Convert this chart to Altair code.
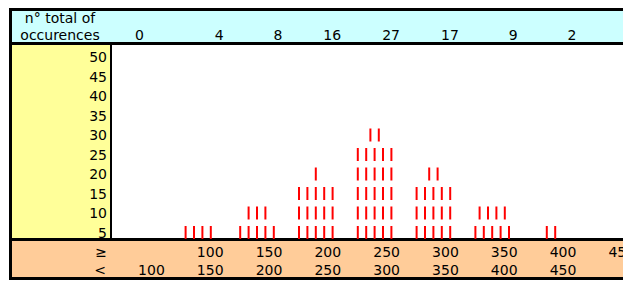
import math
import altair as alt
import pandas as pd

# ---- data ----
counts = [0, 4, 8, 16, 27, 17, 9, 2]
lower_bounds = ["", "100", "150", "200", "250", "300", "350", "400", "450"]
upper_bounds = ["100", "150", "200", "250", "300", "350", "400", "450", ""]
y_ticks = [5, 10, 15, 20, 25, 30, 35, 40, 45, 50]
header_lines = ["n° total of", "occurences"]
row_labels = ["≥", "<"]
TALLY = 5

FONT = "DejaVu Sans"
FS = 14
W, H = 615, 273

# ---- derived tables ----
marks = []
for col, c in enumerate(counts):
    for r in range(math.ceil(c / TALLY)):
        n = min(TALLY, c - TALLY * r)
        for i in range(n):
            marks.append({"col": col, "i": i, "n": n, "level": TALLY * (r + 1)})
tally = pd.DataFrame(marks)

count_df = pd.DataFrame({"col": list(range(len(counts))), "count": counts})
bins_df = pd.DataFrame({"col": list(range(len(lower_bounds))),
                        "lo": lower_bounds, "hi": upper_bounds})
yt_df = pd.DataFrame({"v": y_ticks, "label": [str(v) for v in y_ticks]})
one = pd.DataFrame({"a": [0]})

# column k spans pixels 102 + 58.8*k ... ; rows: value v -> pixel 244 - 3.9*v
xs = alt.Scale(domain=[-102 / 58.8, (W - 102) / 58.8], nice=False, zero=False)
ys = alt.Scale(domain=[(244 - H) / 3.9, 244 / 3.9], nice=False, zero=False)


def rect(color, x, x2, y, y2):
    return alt.Chart(one).mark_rect(color=color, strokeWidth=0).encode(
        x=alt.value(x), x2=alt.value(x2), y=alt.value(y), y2=alt.value(y2))


frame = [
    rect("#000000", 1, W, 0, 272),
    rect("#CCFFFF", 4, W, 3, 34),
    rect("#FFFF99", 4, 102, 37, 230),
    rect("#FFFFFF", 104, W, 37, 230),
    rect("#FFCC99", 4, W, 233, 269),
]

tally_layer = alt.Chart(tally).transform_calculate(
    xx="datum.col + 0.5 + (datum.i - (datum.n - 1) / 2) / 7",
    y1="datum.level - 1.667",
    y2="datum.level + 1.667",
).mark_rule(color="#FF0000", strokeWidth=2).encode(
    x=alt.X("xx:Q", scale=xs, axis=None),
    y=alt.Y("y1:Q", scale=ys, axis=None),
    y2="y2:Q",
)

txt = dict(font=FONT, fontSize=FS, color="#000000")

ytick_layer = alt.Chart(yt_df).mark_text(align="right", baseline="alphabetic", dy=5, **txt).encode(
    x=alt.value(99), y=alt.Y("v:Q", scale=ys, axis=None), text="label:N")

header1 = alt.Chart(pd.DataFrame({"t": [header_lines[0]]})).mark_text(
    align="center", baseline="alphabetic", **txt).encode(
    x=alt.value(52), y=alt.value(15), text="t:N")
header2 = alt.Chart(pd.DataFrame({"t": [header_lines[1]]})).mark_text(
    align="center", baseline="alphabetic", **txt).encode(
    x=alt.value(52), y=alt.value(32), text="t:N")

count_zero = alt.Chart(count_df).transform_filter("datum.count == 0").transform_calculate(
    xc="datum.col + 0.5").mark_text(align="center", baseline="alphabetic", **txt).encode(
    x=alt.X("xc:Q", scale=xs, axis=None), y=alt.value(32), text="count:Q")
count_rest = alt.Chart(count_df).transform_filter("datum.count != 0").transform_calculate(
    xr="datum.col + 1").mark_text(align="right", baseline="alphabetic", dx=-4, **txt).encode(
    x=alt.X("xr:Q", scale=xs, axis=None), y=alt.value(32), text="count:Q")

lo_layer = alt.Chart(bins_df).transform_calculate(xr="datum.col + 1").mark_text(
    align="right", baseline="alphabetic", dx=-4, **txt).encode(
    x=alt.X("xr:Q", scale=xs, axis=None), y=alt.value(248.5), text="lo:N")
hi_layer = alt.Chart(bins_df).transform_calculate(xr="datum.col + 1").mark_text(
    align="right", baseline="alphabetic", dx=-4, **txt).encode(
    x=alt.X("xr:Q", scale=xs, axis=None), y=alt.value(267), text="hi:N")

ge_label = alt.Chart(pd.DataFrame({"t": [row_labels[0]]})).mark_text(
    align="right", baseline="alphabetic", **txt).encode(
    x=alt.value(99), y=alt.value(248.5), text="t:N")
lt_label = alt.Chart(pd.DataFrame({"t": [row_labels[1]]})).mark_text(
    align="right", baseline="alphabetic", **txt).encode(
    x=alt.value(98), y=alt.value(267), text="t:N")

chart = alt.layer(
    *frame, tally_layer, ytick_layer, header1, header2,
    count_zero, count_rest, lo_layer, hi_layer, ge_label, lt_label,
).properties(
    width=W, height=H, padding=0, autosize=alt.AutoSizeParams(type="none"),
    background="white",
).configure_view(stroke=None)

chart.save("out.html", embed_options={"renderer": "svg", "actions": False})
